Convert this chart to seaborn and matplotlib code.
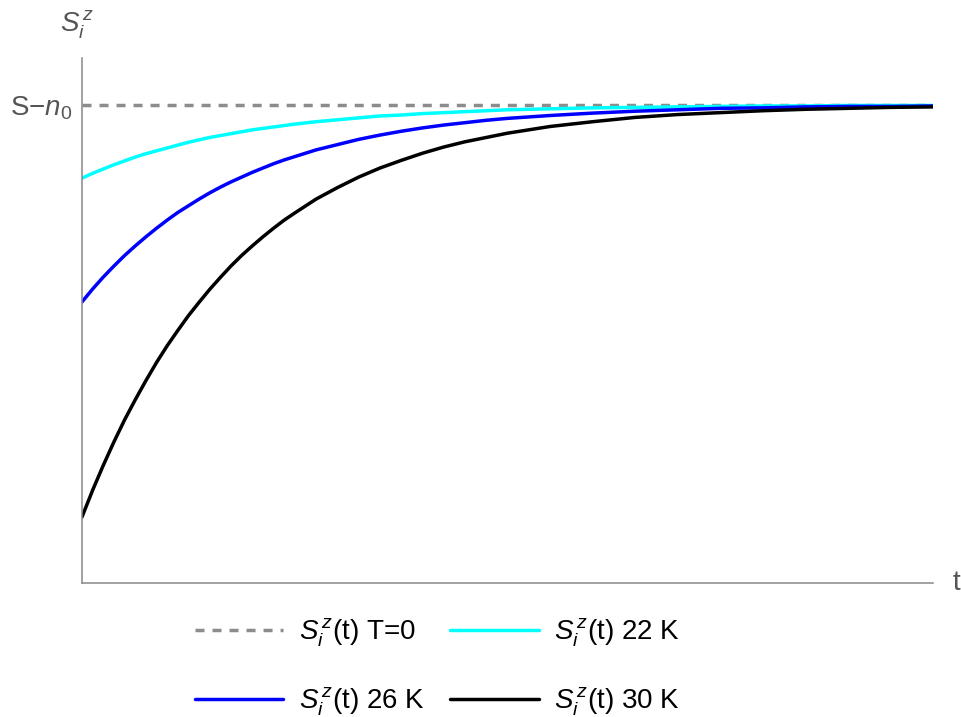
import numpy as np
import matplotlib
matplotlib.use("Agg")
import matplotlib.pyplot as plt
import pandas as pd
import seaborn as sns

# time samples (arbitrary units)
t = [0, 0.125, 0.25, 0.375, 0.5, 0.625, 0.75, 0.875, 1.0, 1.125, 1.25, 1.375,
     1.5, 1.625, 1.75, 1.875, 2.0, 2.125, 2.25, 2.375, 2.5, 2.75, 3.0,
     3.25, 3.5, 3.75, 4.0, 4.25, 4.5, 4.75, 5.0, 5.5, 6.0, 6.5, 7.0, 7.5,
     8.0, 8.5, 9.0, 9.5, 10.0]

# S_i^z(t), in units where S - n0 = 1
s_22K = [0.847, 0.857, 0.866, 0.875, 0.883, 0.891, 0.898, 0.904, 0.910, 0.916,
         0.922, 0.927, 0.932, 0.936, 0.940, 0.944, 0.948, 0.951, 0.954, 0.957,
         0.960, 0.965, 0.969, 0.973, 0.977, 0.979, 0.982, 0.984, 0.986, 0.988,
         0.990, 0.992, 0.994, 0.995, 0.996, 0.997, 0.998, 0.998, 0.999, 0.999, 0.999]
s_26K = [0.588, 0.615, 0.640, 0.663, 0.685, 0.705, 0.724, 0.742, 0.759, 0.775,
         0.789, 0.803, 0.816, 0.828, 0.839, 0.849, 0.859, 0.868, 0.877, 0.885,
         0.892, 0.906, 0.917, 0.928, 0.937, 0.945, 0.952, 0.958, 0.963, 0.968,
         0.972, 0.978, 0.983, 0.987, 0.990, 0.993, 0.994, 0.996, 0.997, 0.997, 0.998]
s_30K = [0.138, 0.194, 0.246, 0.295, 0.341, 0.383, 0.423, 0.461, 0.496, 0.528,
         0.559, 0.587, 0.614, 0.639, 0.663, 0.685, 0.705, 0.724, 0.742, 0.759,
         0.774, 0.803, 0.827, 0.849, 0.868, 0.884, 0.899, 0.912, 0.923, 0.932,
         0.941, 0.955, 0.965, 0.974, 0.980, 0.984, 0.988, 0.991, 0.993, 0.995, 0.996]

# T=0 reference level
t_ref = [0, 10]
s_ref = [1.0, 1.0]

df = pd.DataFrame({'t': t, '22 K': s_22K, '26 K': s_26K, '30 K': s_30K})
df_ref = pd.DataFrame({'t': t_ref, 'S': s_ref})

sns.set_style("white")
plt.rcParams['font.family'] = ['Liberation Sans', 'DejaVu Sans']
plt.rcParams['mathtext.fontset'] = 'custom'
plt.rcParams['mathtext.rm'] = 'Liberation Sans'
plt.rcParams['mathtext.it'] = 'Liberation Sans:italic'

fig = plt.figure(figsize=(9.61, 7.17), dpi=100)
ax = fig.add_axes([0.0853, 0.1869, 0.8855, 0.732])

lw = 2.5
sns.lineplot(x='t', y='S', data=df_ref, ax=ax, color='#8c8c8c', lw=lw,
             label=r'$S_i^{\,z}$(t) T=0')
ax.lines[-1].set_dashes((2.6, 2.3))
sns.lineplot(x='t', y='22 K', data=df, ax=ax, color='#00ffff', lw=lw,
             label=r'$S_i^{\,z}$(t) 22 K')
sns.lineplot(x='t', y='26 K', data=df, ax=ax, color='#0000ff', lw=lw,
             label=r'$S_i^{\,z}$(t) 26 K')
sns.lineplot(x='t', y='30 K', data=df, ax=ax, color='black', lw=lw,
             label=r'$S_i^{\,z}$(t) 30 K')

ax.set_xlim(0, 10)
ax.set_ylim(0, 1.098)

# axes look
for side in ['top', 'right']:
    ax.spines[side].set_visible(False)
for side in ['left', 'bottom']:
    ax.spines[side].set_color('#888888')
    ax.spines[side].set_linewidth(1.1)

fs = 20
ax.set_xticks([])
ax.set_yticks([1.0])
ax.set_yticklabels([r'S$-$$n_0$'], fontsize=fs, color='#555555')
ax.tick_params(axis='y', length=0, pad=7)

ax.set_xlabel('t', fontsize=fs, color='#555555')
ax.xaxis.set_label_coords(1.028, 0.0)
ax.xaxis.label.set_verticalalignment('center')
ax.set_ylabel(r'$S_i^{\,z}$', fontsize=fs, color='#555555', rotation=0)
ax.yaxis.set_label_coords(-0.005, 1.063)
ax.yaxis.label.set_verticalalignment('center')
ax.yaxis.label.set_horizontalalignment('center')

# legend below the plot, two columns, filled row by row
handles, labels = ax.get_legend_handles_labels()
ax.get_legend().remove()
order = [0, 2, 1, 3]
fig.legend([handles[i] for i in order], [labels[i] for i in order],
           ncol=2, loc='center', bbox_to_anchor=(0.455, 0.069),
           frameon=False, fontsize=fs, handlelength=3.2, handletextpad=0.55,
           columnspacing=0.9, labelspacing=1.3, labelcolor='black')

plt.savefig('out.png', dpi=100)
